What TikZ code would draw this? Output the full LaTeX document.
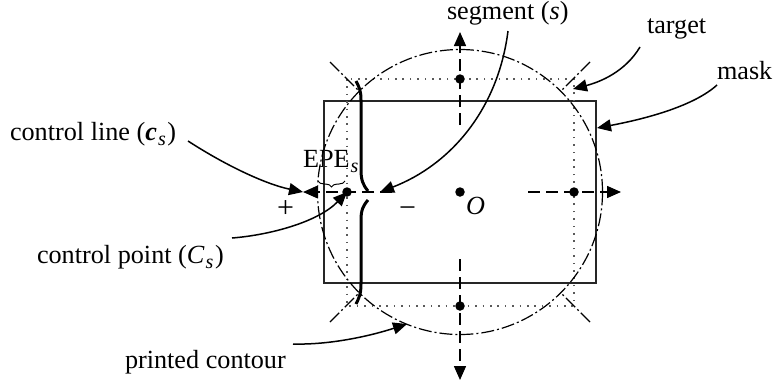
\documentclass[tikz,border=0pt]{standalone}
\usepackage{fontspec}
\setmainfont{Liberation Serif}
\usetikzlibrary{arrows.meta,decorations.pathreplacing}
\newcommand{\lowsub}[1]{\kern0.04em\raisebox{-0.22em}{\fontsize{20}{20}\selectfont\textit{#1}}\kern0.06em}
\tikzset{
  lbl/.style={inner sep=0pt,outer sep=0pt,anchor=base west,font=\fontsize{26.2}{30}\selectfont},
  bigsign/.style={inner sep=0pt,outer sep=0pt,anchor=base west,font=\fontsize{30}{32}\selectfont},
  tip/.style={-{Triangle[length=14pt,width=12pt]}},
  callout/.style={tip,line width=1.5pt,black},
  axisline/.style={tip,line width=1.5pt,dash pattern=on 12pt off 6pt},
  pointdot/.style={circle,fill=black,inner sep=0pt,minimum size=9.5pt},
  targetline/.style={line width=1.6pt,dash pattern=on 1.6pt off 5.8pt,black!65},
  contourline/.style={line width=1.2pt,dash pattern=on 13pt off 3pt on 2pt off 3pt},
  segline/.style={line width=3pt}
}
\begin{document}
\begin{tikzpicture}[x=1pt,y=-1pt]
\useasboundingbox (0,0) rectangle (773,381);
% labels
\node[lbl] (lseg) at (447,19) {segment (\textit{s})};
\node[lbl] (ltar) at (647,33) {target};
\node[lbl] (lmask) at (717,79) {mask};
\node[lbl] (lline) at (10,140) {control line (\textbf{\textit{c}}\lowsub{s})};
\node[lbl] (lpoint) at (37,263) {control point (\textit{C}\lowsub{s})};
\node[lbl] (lprint) at (125,368) {printed contour};
\node[lbl] (lepe) at (303,167) {EPE\lowsub{s}};
\node[bigsign] (lplus) at (277,217) {+};
\node[bigsign] (lminus) at (399,217) {−};
\node[lbl] (lO) at (466,214) {\textit{O}};
% main shapes
\coordinate (O) at (460,192);
\node[draw,line width=1.5pt,draw=black!85,minimum width=272pt,minimum height=182pt,inner sep=0pt,outer sep=0pt] (maskbox) at (O) {};
\draw[targetline] (347,79) rectangle (574,306);
\node[draw,contourline,circle,minimum size=285pt,inner sep=0pt,outer sep=0pt] (contour) at (O) {};
% corner diagonals
\coordinate (d1a) at (330,62); \coordinate (d1b) at (358,90);
\coordinate (d2a) at (590,62); \coordinate (d2b) at (561,91);
\coordinate (d3a) at (330,322); \coordinate (d3b) at (358,294);
\coordinate (d4a) at (590,322); \coordinate (d4b) at (561,293);
\draw[contourline] (d1a) -- (d1b);
\draw[contourline] (d2a) -- (d2b);
\draw[contourline] (d3a) -- (d3b);
\draw[contourline] (d4a) -- (d4b);
% control points
\node[pointdot] (center) at (O) {};
\node[pointdot] (pl) at (347,192) {};
\node[pointdot] (pr) at (574,192) {};
\node[pointdot] (pt) at (460,79) {};
\node[pointdot] (pb) at (460,306) {};
% axis lines
\coordinate (al) at (392,192); \coordinate (alt) at (303,192);
\coordinate (ar) at (528,192); \coordinate (art) at (621,192);
\coordinate (at) at (460,125); \coordinate (att) at (460,32);
\coordinate (ab) at (460,259); \coordinate (abt) at (460,380);
\draw[axisline] (al) -- (alt);
\draw[axisline] (ar) -- (art);
\draw[axisline] (at) -- (att);
\draw[axisline] (ab) -- (abt);
% segment
\coordinate (st) at (356,81); \coordinate (sb) at (356,304);
\coordinate (sm) at (368,191); \coordinate (sn) at (368,200);
\draw[segline] (st) .. controls (359,87) and (361,90) .. (361,100) -- (361,170) .. controls (361,180) and (363,185) .. (sm);
\draw[segline] (sn) .. controls (363,206) and (361,210) .. (361,220) -- (361,284) .. controls (361,294) and (359,298) .. (sb);
% EPE brace
\coordinate (b1) at (318,181); \coordinate (b2) at (345,181);
\draw[line width=1pt,decorate,decoration={brace,amplitude=6pt,mirror}] (b1) -- (b2);
% callouts
\coordinate (cs1) at (508,31); \coordinate (ce1) at (380,192);
\draw[callout] (cs1) .. controls (498,110) and (450,165) .. (ce1);
\coordinate (cs2) at (640,47); \coordinate (ce2) at (573,89);
\draw[callout] (cs2) .. controls (625,72) and (600,82) .. (ce2);
\coordinate (cs3) at (717,85); \coordinate (ce3) at (597,128);
\draw[callout] (cs3) .. controls (695,105) and (650,118) .. (ce3);
\coordinate (cs4) at (188,141); \coordinate (ce4) at (303,192);
\draw[callout] (cs4) .. controls (225,165) and (265,184) .. (ce4);
\coordinate (cs5) at (232,238); \coordinate (ce5) at (347,192);
\draw[callout] (cs5) .. controls (270,235) and (318,222) .. (ce5);
\coordinate (cs6) at (293,344); \coordinate (ce6) at (407,324);
\draw[callout] (cs6) .. controls (330,345) and (370,336) .. (ce6);
\end{tikzpicture}
\end{document}
